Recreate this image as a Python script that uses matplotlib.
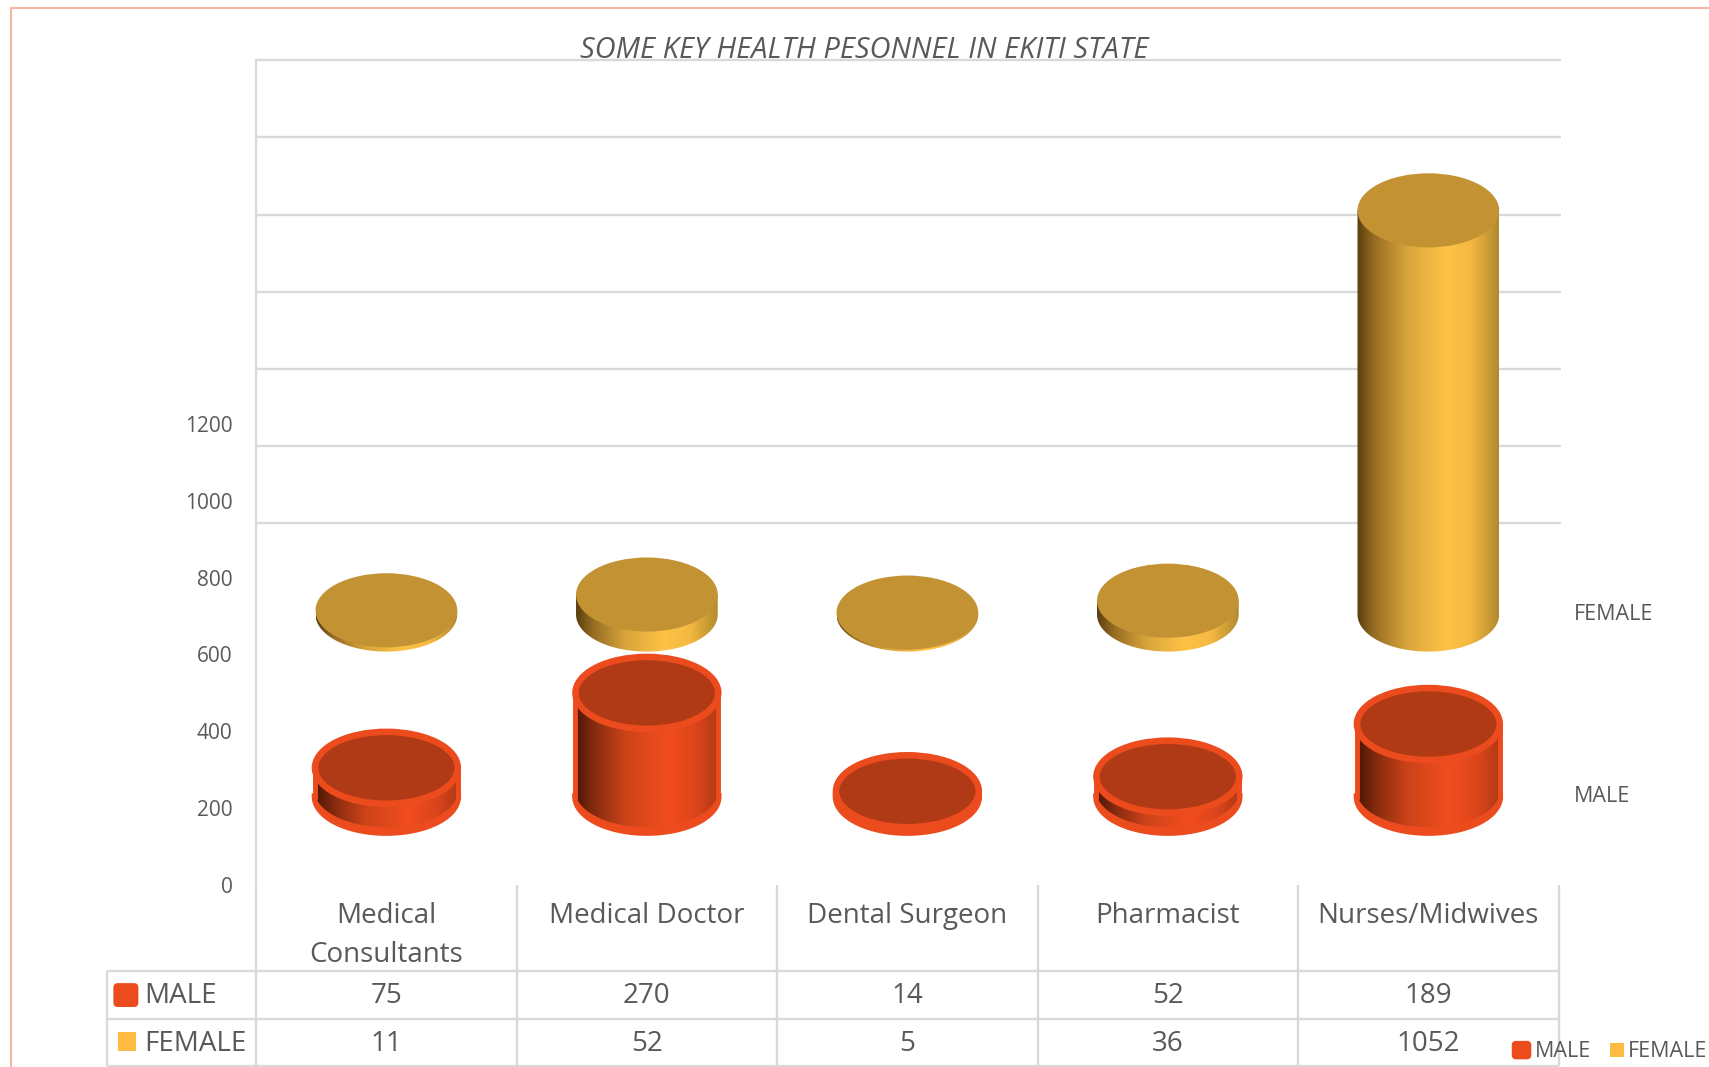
import numpy as np
import matplotlib
matplotlib.use("Agg")
import matplotlib.pyplot as plt
from matplotlib.colors import LinearSegmentedColormap
from matplotlib.patches import Ellipse, PathPatch, FancyBboxPatch, Rectangle, Polygon
from matplotlib.path import Path

categories = ["Medical\nConsultants", "Medical Doctor", "Dental Surgeon", "Pharmacist", "Nurses/Midwives"]
male = [75, 270, 14, 52, 189]
female = [11, 52, 5, 36, 1052]
y_ticks = [0, 200, 400, 600, 800, 1000, 1200]
title = "SOME KEY HEALTH PESONNEL IN EKITI STATE"

plt.rcParams["font.family"] = ["Open Sans", "DejaVu Sans"]
TXT = "#595959"
GRID = "#D9D9D9"
W, H = 1568.0, 979.0
L, R, T, B = 235.0, 1430.0, 55.0, 812.0
PX = 0.3525  # picture rows per unit

fig = plt.figure(figsize=(17.09, 10.67), dpi=100, facecolor="white")

# overlay in picture units for frame, table, legend
ov = fig.add_axes([0, 0, 1, 1], zorder=1)
ov.set_xlim(0, W); ov.set_ylim(H, 0); ov.axis("off")

ax = fig.add_axes([L / W, 1 - B / H, (R - L) / W, (B - T) / H], zorder=2)
ax.patch.set_alpha(0)
ax.set_xlim(0, 5)
ax.set_ylim(0, (B - T) / PX)
for s in ["top", "right", "bottom"]:
    ax.spines[s].set_visible(False)
ax.spines["left"].set_color(GRID); ax.spines["left"].set_linewidth(1.6)
ax.set_xticks([])
ax.set_yticks(y_ticks)
ax.tick_params(axis="y", length=0, pad=17, labelsize=15, labelcolor=TXT)
for lab in ax.get_yticklabels():
    lab.set_y(lab.get_position()[1])

# frame
ov.plot([W, 10.5, 10.5], [7.6, 7.6, H], color="#F8B5A3", lw=1.5, solid_joinstyle="miter")
# back wall gridlines
for r in [55, 126, 197, 268, 339, 409, 480]:
    ov.plot([L, 1432], [r, r], color=GRID, lw=1.7, solid_capstyle="butt")

cmap_f = LinearSegmentedColormap.from_list("f", [(0, "#5A3F10"), (.12, "#966C22"), (.35, "#D8A53B"), (.62, "#FFC246"), (.8, "#F5B942"), (1, "#B28A2E")])
cmap_m = LinearSegmentedColormap.from_list("m", [(0, "#4A1606"), (.12, "#80290E"), (.35, "#CC4319"), (.65, "#F24D1E"), (.85, "#DB451B"), (1, "#B03A15")])
grad = np.linspace(0, 1, 256).reshape(1, -1)

def cylinder(cx, base, value, half_w, half_h, cmap, top_col, edge=None, lw=0):
    top = base + value
    hw = half_w / (R - L) * 5
    hh = half_h / PX
    th = np.linspace(np.pi, 2 * np.pi, 80)
    rim = 0
    if edge:
        rim = 5 / PX
        # flat rim crescent at the lower end
        ox = cx + hw * np.cos(th)
        oy = base + hh * np.sin(th)
        ax.add_patch(Polygon(np.c_[ox, oy], closed=True, fc=edge, ec=edge, lw=lw, zorder=2.9, clip_on=False))
    b2 = base + rim
    xs = np.r_[cx - hw, cx + hw * np.cos(th), cx + hw, cx - hw]
    ys = np.r_[top, b2 + hh * np.sin(th), top, top]
    pth = Path(np.c_[xs, ys])
    clip = PathPatch(pth, transform=ax.transData, fc="none", ec="none")
    ax.add_patch(clip)
    im = ax.imshow(grad, cmap=cmap, aspect="auto", extent=[cx - hw, cx + hw, base - hh, top + hh], zorder=3, interpolation="bilinear")
    im.set_clip_path(clip); im.set_clip_on(True)
    if edge:
        ax.plot([cx - hw, cx - hw], [base, top], color=edge, lw=lw * .75, zorder=3.1, clip_on=False)
        ax.plot([cx + hw, cx + hw], [base, top], color=edge, lw=lw * .75, zorder=3.1, clip_on=False)
    ax.add_patch(Ellipse((cx, top), 2 * hw, 2 * hh, fc=top_col, ec=edge or "none", lw=lw, zorder=3.2, clip_on=False))

centers = np.arange(5) + 0.5
for c, v in zip(centers, female):
    cylinder(c, 704, v, 65, 34, cmap_f, "#C29233")
for c, v in zip(centers, male):
    cylinder(c, 230, v, 65.5, 33, cmap_m, "#B03A15", edge="#EC4B1E", lw=4.7)
ax.set_xlim(0, 5)
ax.set_ylim(0, (B - T) / PX)

ov.text(793, 46, title, ha="center", va="center", style="italic", fontsize=21, color=TXT)
ov.text(1444, 564, "FEMALE", va="center", fontsize=15.5, color=TXT)
ov.text(1444, 731, "MALE", va="center", fontsize=15.5, color=TXT)

# data table
xs_tab = [235, 474, 713, 952, 1191, 1430]
for x in xs_tab:
    ov.plot([x, x], [812, 978], color=GRID, lw=1.7, solid_capstyle="butt")
ov.plot([98, 98], [891, 978], color=GRID, lw=1.7, solid_capstyle="butt")
for r in [891, 935, 978]:
    ov.plot([98, 1430], [r, r], color=GRID, lw=1.7, solid_capstyle="butt")
for i, cat in enumerate(categories):
    cx = (xs_tab[i] + xs_tab[i + 1]) / 2
    for j, line in enumerate(cat.split("\n")):
        ov.text(cx, 840 + 36 * j, line, ha="center", va="center", fontsize=20, color=TXT)
    ov.text(cx, 914, str(male[i]), ha="center", va="center", fontsize=20, color=TXT)
    ov.text(cx, 958, str(female[i]), ha="center", va="center", fontsize=20, color=TXT)

ov.add_patch(FancyBboxPatch((105, 903), 21, 20, boxstyle="round,pad=0,rounding_size=3", fc="#EC4B1E", ec="#EC4B1E", lw=1.5))
ov.add_patch(Rectangle((108, 947), 17, 17, fc="#FFBA42", ec="none"))
ov.text(132, 914, "MALE", va="center", fontsize=20, color=TXT)
ov.text(132, 958, "FEMALE", va="center", fontsize=20, color=TXT)

# legend
ov.add_patch(FancyBboxPatch((1388, 956), 16, 15, boxstyle="round,pad=0,rounding_size=3", fc="#EC4B1E", ec="#EC4B1E", lw=1.5))
ov.add_patch(Rectangle((1477, 957), 13, 13, fc="#FFBA42", ec="none"))
ov.text(1408, 965, "MALE", va="center", fontsize=15.5, color=TXT)
ov.text(1494, 965, "FEMALE", va="center", fontsize=15.5, color=TXT, clip_on=False)

fig.savefig("out.png", dpi=100)
